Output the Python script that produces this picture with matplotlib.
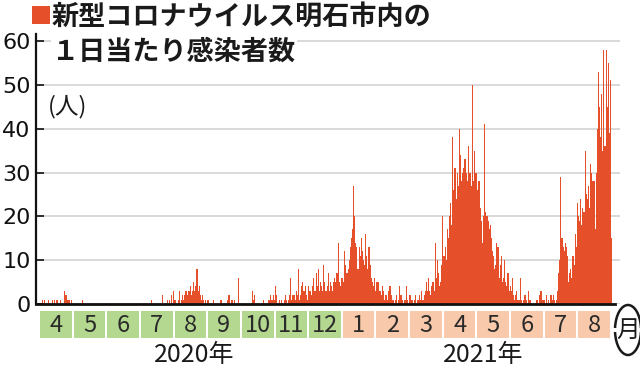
import matplotlib
matplotlib.use('Agg')
import matplotlib.pyplot as plt
import numpy as np
from matplotlib.patches import Rectangle, Arc

# ---------------- data (daily new cases, Apr 2020 - Aug 2021) ----------------
apr20 = [0,1,0,1,0,0,1,0,0,0,1,0,1,0,1,0,0,1,0,0,0,3,2,2,1,1,0,1,0,0]
may20 = [0,0,0,0,0,0,0,1,0,0,0,0,0,0,0,0,0,0,0,0,0,0,0,0,0,0,0,0,0,0,0]
jun20 = [0,0,0,0,0,0,0,0,0,0,0,0,0,0,0,0,0,0,0,0,0,0,0,0,0,0,0,0,0,0]
jul20 = [0,0,0,0,0,0,0,0,0,1,0,0,0,0,0,0,0,0,0,2,0,0,0,1,0,1,0,2,0,3,1]
aug20 = [0,0,1,3,0,1,2,1,2,3,2,3,3,4,2,3,5,3,4,8,3,4,2,1,2,1,0,1,0,1,0]
sep20 = [0,0,0,1,0,0,0,0,0,1,1,0,0,0,0,0,1,2,0,1,1,0,1,0,0,0,6,0,0,0]
oct20 = [0,0,0,0,0,0,0,0,3,1,2,0,0,0,0,0,0,0,1,0,0,0,0,1,1,2,1,2,1,4,2]
nov20 = [0,0,1,0,1,0,1,2,1,0,1,2,6,1,2,2,1,3,2,8,1,2,4,5,3,4,2,1,4,3]
dec20 = [3,2,4,6,3,7,4,8,3,5,4,3,9,5,3,4,7,3,5,4,3,5,6,5,7,14,5,4,6,6,5]
jan21 = [12,9,7,8,10,13,15,17,27,20,14,13,8,13,11,15,12,10,9,16,11,8,13,9,6,5,4,6,3,5,5]
feb21 = [5,3,2,4,3,1,2,2,1,3,4,2,1,1,0,1,2,0,1,4,2,1,0,1,1,4,1,0]
mar21 = [2,2,1,0,1,2,0,1,1,2,1,3,1,2,3,5,3,6,3,2,4,5,3,14,6,10,7,4,5,9,20]
apr21 = [11,13,10,17,15,20,23,18,38,26,31,24,30,27,40,34,28,30,31,33,30,28,36,30,30,27,50,28,35,30]
may21 = [26,28,28,22,19,14,20,41,21,20,19,17,18,15,12,11,8,9,14,13,6,9,11,5,6,10,5,4,7,3,4]
jun21 = [3,6,2,1,2,3,1,1,6,1,0,1,2,2,1,0,3,1,0,0,0,0,0,1,1,0,2,3,1,1]
jul21 = [1,0,2,0,1,0,2,1,2,1,0,1,3,7,10,29,15,13,12,14,13,11,5,7,8,6,11,9,16,13,23]
aug21 = [20,19,24,18,22,21,35,25,24,27,22,32,30,28,28,17,30,40,53,45,38,48,35,58,36,58,45,55,39,51,15]

month_labels = ['4','5','6','7','8','9','10','11','12','1','2','3','4','5','6','7','8']
month_years = [2020]*9 + [2021]*8
year_labels = ['2020年', '2021年']
y_ticks = [0, 10, 20, 30, 40, 50, 60]

title_line1 = '新型コロナウイルス明石市内の'
title_line2 = '１日当たり感染者数'
unit_label = '(人)'
month_unit = '月'

# ---------------- style ----------------
BAR = '#E5502A'
GREEN = '#B4D88F'
PEACH = '#F8C9AA'
GRID = '#D9D9D9'
CJK = ['Noto Sans CJK JP', 'DejaVu Sans']

W, H = 640, 369
fig = plt.figure(figsize=(6.4, 3.69), dpi=100)
fig.patch.set_facecolor('white')

def fx(px):
    return px / W

def fy(py):
    return 1 - py / H

PX_PER_DAY = 1.1026
X0 = 41
ax_left, ax_right, ax_top, ax_bot = 36, 620, 34, 304
ax = fig.add_axes([fx(ax_left), fy(ax_bot), (ax_right - ax_left) / W, (ax_bot - ax_top) / H])

values = np.array(apr20 + may20 + jun20 + jul20 + aug20 + sep20 + oct20 + nov20 + dec20
                  + jan21 + feb21 + mar21 + apr21 + may21 + jun21 + jul21 + aug21)
days = np.arange(len(values))
ax.bar(days, values, width=1.0, align='edge', color=BAR, linewidth=0, zorder=2)

xmin = (ax_left - X0) / PX_PER_DAY
xmax = (ax_right - X0) / PX_PER_DAY
ax.set_xlim(xmin, xmax)
ax.set_ylim(0, (ax_bot - ax_top) / 4.383)
ax.set_yticks(y_ticks)
ax.set_yticklabels([str(t) for t in y_ticks])
ax.set_xticks([])
ax.yaxis.grid(True, color=GRID, linewidth=1.4, zorder=0)
ax.set_axisbelow(True)
for s in ['top', 'right']:
    ax.spines[s].set_visible(False)
ax.spines['left'].set_linewidth(1.6)
ax.spines['left'].set_color('#111111')
ax.spines['bottom'].set_linewidth(2.0)
ax.spines['bottom'].set_color('#111111')
ax.spines['bottom'].set_bounds(xmin, (615 - X0) / PX_PER_DAY)
ax.spines['bottom'].set_zorder(3)
ax.tick_params(axis='y', direction='in', length=6, width=1.2, labelsize=16, pad=4,
               colors='#111111')
ax.patch.set_alpha(0)

# title
fig.add_artist(Rectangle((fx(32), fy(24)), 18 / W, 18 / H, transform=fig.transFigure,
                         color=BAR, linewidth=0))
fig.text(fx(52), fy(17), title_line1, fontsize=19.5, fontweight='bold', family=CJK,
         ha='left', va='center', color='#1a1a1a')
fig.text(fx(52), fy(52), title_line2, fontsize=19.5, fontweight='bold', family=CJK,
         ha='left', va='center', color='#1a1a1a',
         bbox=dict(facecolor='white', edgecolor='none', pad=1))
fig.text(fx(48), fy(107), unit_label, fontsize=17, family=CJK, ha='left', va='center',
         color='#1a1a1a')

# month strip
ax2 = fig.add_axes([fx(40), fy(338), 572 / W, 27 / H])
ax2.set_xlim(0, len(month_labels))
ax2.set_ylim(0, 1)
ax2.axis('off')
box_colors = [GREEN if y == 2020 else PEACH for y in month_years]
pos = np.arange(len(month_labels))
ax2.bar(pos, 1, width=0.94, align='edge', color=box_colors, linewidth=0)
for i, lab in enumerate(month_labels):
    ax2.text(i + 0.47, 0.47, lab, ha='center', va='center', fontsize=17, family=CJK,
             color='#2a2a2a')

# years
fig.text(fx(194), fy(355), year_labels[0], ha='center', va='center', fontsize=18,
         family=CJK, color='#1a1a1a')
fig.text(fx(483), fy(355), year_labels[1], ha='center', va='center', fontsize=18,
         family=CJK, color='#1a1a1a')

# 月 with oval brackets
fig.text(fx(628), fy(330), month_unit, ha='center', va='center', fontsize=17, family=CJK,
         color='#1a1a1a')
fig.add_artist(Arc((fx(628), fy(330)), 26 / W, 50 / H, theta1=15, theta2=165,
                   transform=fig.transFigure, linewidth=1.8, color='#1a1a1a'))
fig.add_artist(Arc((fx(628), fy(330)), 26 / W, 50 / H, theta1=195, theta2=345,
                   transform=fig.transFigure, linewidth=1.8, color='#1a1a1a'))

fig.savefig('out.png', dpi=100, facecolor='white')
